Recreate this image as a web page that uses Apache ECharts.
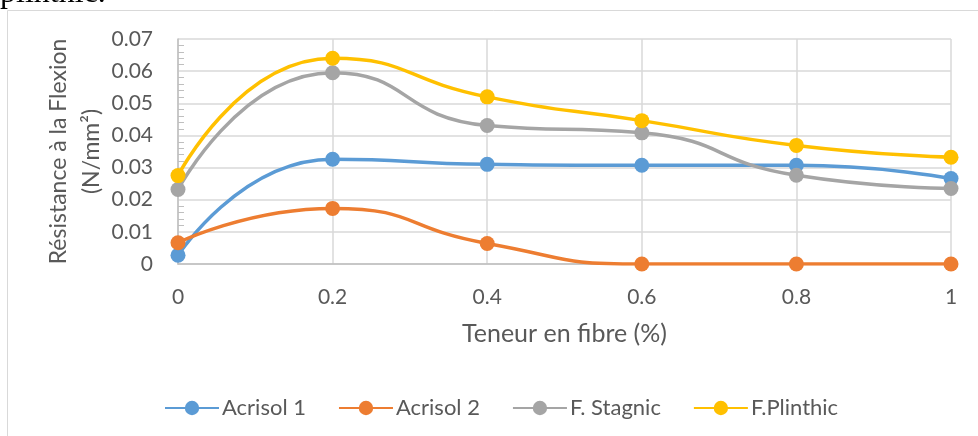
<!DOCTYPE html>
<html>
<head>
<meta charset="utf-8">
<script src="https://cdn.jsdelivr.net/npm/echarts@6/dist/echarts.min.js"></script>
<style>html,body{margin:0;padding:0;background:#fff}#c{width:978px;height:436px}</style>
</head>
<body>
<div id="c"></div>
<script>
const xValues = [0, 0.2, 0.4, 0.6, 0.8, 1];
const acrisol1 = [0.0027, 0.0326, 0.0310, 0.0307, 0.0307, 0.0266];
const acrisol2 = [0.0066, 0.0173, 0.0064, 0.0000, 0.0000, 0.0000];
const stagnic = [0.0232, 0.0595, 0.0431, 0.0408, 0.0276, 0.0235];
const plinthic = [0.0275, 0.0640, 0.0520, 0.0446, 0.0369, 0.0332];
const seriesNames = ['Acrisol 1', 'Acrisol 2', 'F. Stagnic', 'F.Plinthic'];
const colors = ['#5b9bd5', '#ed7d31', '#a5a5a5', '#ffc000'];
const yTicks = { min: 0, max: 0.07, interval: 0.01 };

const font = 'Lato, "Open Sans", sans-serif';
const dataSets = [acrisol1, acrisol2, stagnic, plinthic];
const chart = echarts.init(document.getElementById('c'));
chart.setOption({
  animation: false,
  color: colors,
  graphic: [
    { type: 'rect', shape: { x: 7.5, y: 10.5, width: 1100, height: 600 }, style: { fill: 'none', stroke: '#d9d9d9', lineWidth: 1 } },
    { type: 'text', left: 0, top: -22, style: { text: 'plinthic.', font: '32px "Liberation Serif", serif', fill: '#000' } }
  ],
  grid: { left: 178, right: 27, top: 39, bottom: 172 },
  legend: {
    top: 392, left: 159, itemWidth: 54, itemHeight: 18, itemGap: 32,
    textStyle: { fontFamily: font, fontSize: 22, color: '#595959', padding: [0, 0, 0, -2] },
    data: seriesNames
  },
  xAxis: {
    type: 'value', min: 0, max: 1, interval: 0.2,
    name: 'Teneur en fibre (%)', nameLocation: 'middle', nameGap: 57, nameMoveOverlap: false,
    nameTextStyle: { fontFamily: font, fontSize: 25, color: '#595959' },
    axisLine: { show: true, onZero: false, lineStyle: { color: '#bfbfbf', width: 1.5 } },
    axisTick: { show: false },
    axisLabel: { fontFamily: font, fontSize: 21, color: '#595959', margin: 23 },
    splitLine: { show: true, lineStyle: { color: '#d9d9d9', width: 1.5 } }
  },
  yAxis: {
    type: 'value', min: yTicks.min, max: yTicks.max, interval: yTicks.interval,
    name: 'Résistance à la Flexion\n(N/mm²)', nameLocation: 'middle', nameGap: 70, nameMoveOverlap: false,
    nameTextStyle: { fontFamily: font, fontSize: 23, color: '#595959', lineHeight: 33 },
    axisLine: { show: true, lineStyle: { color: '#bfbfbf', width: 1.5 } },
    axisTick: { show: false, inside: true },
    minorTick: { show: true, splitNumber: 5, length: 6, lineStyle: { color: '#bfbfbf', width: 1 } },
    axisLabel: { fontFamily: font, fontSize: 21, color: '#595959', margin: 25 },
    splitLine: { show: true, lineStyle: { color: '#d9d9d9', width: 1.5 } }
  },
  series: dataSets.map((d, i) => ({
    name: seriesNames[i], type: 'line', smooth: 0.55,
    data: xValues.map((x, j) => [x, d[j]]),
    symbol: 'circle', symbolSize: 15,
    lineStyle: { width: 3.5, color: colors[i] },
    itemStyle: { color: colors[i] }
  }))
});
</script>
</body>
</html>
